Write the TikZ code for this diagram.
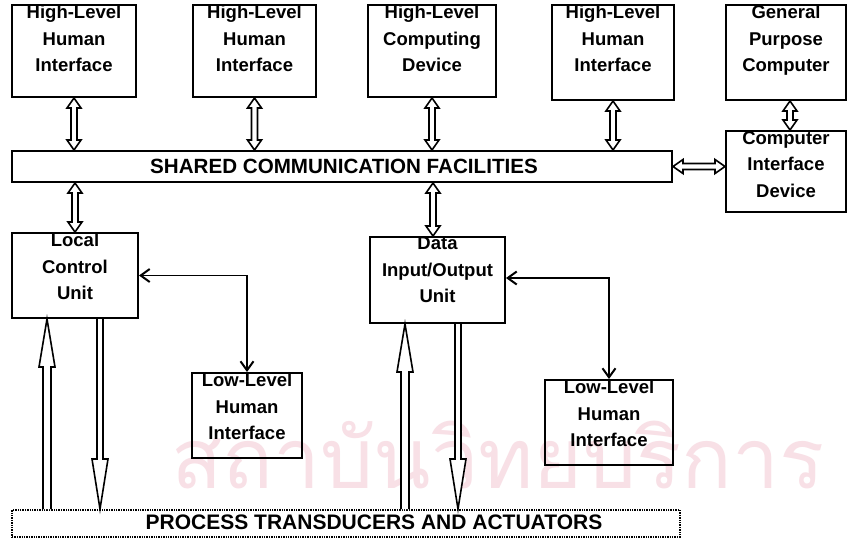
\documentclass[tikz,border=0pt]{standalone}
\usepackage{fontspec}
\setmainfont{Liberation Sans}
\newfontfamily\thaifont[Script=Thai]{Loma}
\usetikzlibrary{calc,arrows.meta}

\definecolor{wmpink}{RGB}{248,224,230}

\tikzset{
  box/.style={draw, line width=2pt, inner sep=0pt},
  lbl/.style={anchor=north, align=center, inner sep=0pt,
              font=\bfseries\fontsize{18.5}{26.5}\selectfont},
  barlbl/.style={inner sep=0pt, font=\bfseries\fontsize{20.6}{21}\selectfont},
  % hollow double-headed vertical arrow (start above target)
  vdbl/.style={draw, fill=white, line width=1.6pt, to path={
    let \p1=(\tikztostart), \p2=(\tikztotarget) in
    (\x1,\y1) -- (\x1+7pt,\y1-10pt) -- (\x1+3pt,\y1-10pt) -- (\x1+3pt,\y2+10pt)
    -- (\x1+7pt,\y2+10pt) -- (\x1,\y2) -- (\x1-7pt,\y2+10pt) -- (\x1-3pt,\y2+10pt)
    -- (\x1-3pt,\y1-10pt) -- (\x1-7pt,\y1-10pt) -- cycle}},
  % hollow double-headed horizontal arrow (start left of target)
  hdbl/.style={draw, fill=white, line width=1.6pt, to path={
    let \p1=(\tikztostart), \p2=(\tikztotarget) in
    (\x1,\y1) -- (\x1+10pt,\y1+7pt) -- (\x1+10pt,\y1+3pt) -- (\x2-10pt,\y1+3pt)
    -- (\x2-10pt,\y1+7pt) -- (\x2,\y1) -- (\x2-10pt,\y1-7pt) -- (\x2-10pt,\y1-3pt)
    -- (\x1+10pt,\y1-3pt) -- (\x1+10pt,\y1-7pt) -- cycle}},
  % long hollow single arrow, head at the target end (target above start)
  bigup/.style={draw, fill=white, line width=1.6pt, to path={
    let \p1=(\tikztostart), \p2=(\tikztotarget) in
    (\x1-4pt,\y1) -- (\x1-4pt,\y2-48pt) -- (\x1-8pt,\y2-48pt) -- (\x1,\y2)
    -- (\x1+8pt,\y2-48pt) -- (\x1+4pt,\y2-48pt) -- (\x1+4pt,\y1)}},
  % long hollow single arrow, head at the target end (target below start)
  bigdown/.style={draw, fill=white, line width=1.6pt, to path={
    let \p1=(\tikztostart), \p2=(\tikztotarget) in
    (\x1-3pt,\y1) -- (\x1-3pt,\y2+50pt) -- (\x1-8pt,\y2+50pt) -- (\x1,\y2)
    -- (\x1+8pt,\y2+50pt) -- (\x1+3pt,\y2+50pt) -- (\x1+3pt,\y1)}},
  thinarr/.style={draw, line width=1.8pt,
    {Straight Barb[length=9pt,width=13pt,line width=2pt]}-{Straight Barb[length=9pt,width=13pt,line width=2pt]}},
}

\begin{document}
\begin{tikzpicture}[x=1pt,y=-1pt]
\useasboundingbox[fill=white] (0,0) rectangle (848,542);

% faint background lettering
\node[text=wmpink, inner sep=0pt, font=\thaifont\fontsize{84}{84}\selectfont] (wm) at (498,455) {สถาบันวิทยบริการ};

% upper row of devices
\node[box, minimum width=124, minimum height=92] (hl1) at (74,51) {};
\node[box, minimum width=123, minimum height=92] (hl2) at (254.5,51) {};
\node[box, minimum width=128, minimum height=92] (hcd) at (432,51) {};
\node[box, minimum width=122, minimum height=95] (hl4) at (613,52.5) {};
\node[box, minimum width=120, minimum height=95] (gpc) at (786,52.5) {};
\node[box, minimum width=120, minimum height=81] (cid) at (786,171.5) {};

% shared bus
\node[box, minimum width=660, minimum height=31] (bar) at (342,166.5) {};
\node[barlbl] (bart) at (344,166.5) {SHARED COMMUNICATION FACILITIES};

% units below the bus
\node[box, minimum width=126, minimum height=85] (lcu) at (75,275.5) {};
\node[box, minimum width=135, minimum height=86] (dio) at (437.5,280) {};
\node[box, minimum width=110, minimum height=85] (ll1) at (247,415.5) {};
\node[box, minimum width=128, minimum height=85] (ll2) at (609,422.5) {};

% process level
\node[draw, line width=2pt, dash pattern=on 1.4pt off 1pt, inner sep=0pt,
      minimum width=668, minimum height=27] (proc) at (346,523.5) {};
\node[barlbl, font=\bfseries\fontsize{21}{21}\selectfont] (proct) at (374,522) {PROCESS TRANSDUCERS AND ACTUATORS};

% box labels
\node[lbl] (hl1t) at ([yshift=-1]hl1.north) {High-Level\\Human\\Interface};
\node[lbl] (hl2t) at ([yshift=-1]hl2.north) {High-Level\\Human\\Interface};
\node[lbl] (hcdt) at ([yshift=-1]hcd.north) {High-Level\\Computing\\Device};
\node[lbl] (hl4t) at ([yshift=-1]hl4.north) {High-Level\\Human\\Interface};
\node[lbl] (gpct) at ([yshift=-1]gpc.north) {General\\Purpose\\Computer};
\node[lbl] (cidt) at ([yshift=-1]cid.north) {Computer\\Interface\\Device};
\node[lbl] (lcut) at ([yshift=-1]lcu.north) {Local\\Control\\Unit};
\node[lbl] (diot) at ([yshift=-1]dio.north) {Data\\Input/Output\\Unit};
\node[lbl] (ll1t) at ([yshift=-1]ll1.north) {Low-Level\\Human\\Interface};
\node[lbl] (ll2t) at ([yshift=-1]ll2.north) {Low-Level\\Human\\Interface};

% links to the shared bus
\draw[vdbl] (hl1.south) to (hl1.south |- bar.north);
\draw[vdbl] (hl2.south) to (hl2.south |- bar.north);
\draw[vdbl] (hcd.south) to (hcd.south |- bar.north);
\draw[vdbl] (hl4.south) to (hl4.south |- bar.north);
\draw[vdbl] ([xshift=4]gpc.south) to ([xshift=4]cid.north);
\draw[hdbl] (bar.east) to (cid.west |- bar.east);
\draw[vdbl] (lcu.north |- bar.south) to (lcu.north);
\draw[vdbl] ([xshift=-4.5]dio.north |- bar.south) to ([xshift=-4.5]dio.north);

% low-level human interfaces
\draw[thinarr] (lcu.east) -| (ll1.north);
\draw[thinarr] ([yshift=2]dio.east) -| (ll2.north);

% process signals
\draw[bigup] ([xshift=-28]lcu.south |- proc.north) to ([xshift=-28]lcu.south);
\draw[bigdown] ([xshift=25]lcu.south) to ([xshift=25]lcu.south |- proc.north);
\draw[bigup] ([xshift=-32.5]dio.south |- proc.north) to ([xshift=-32.5]dio.south);
\draw[bigdown] ([xshift=20.5]dio.south) to ([xshift=20.5]dio.south |- proc.north);
\end{tikzpicture}
\end{document}
